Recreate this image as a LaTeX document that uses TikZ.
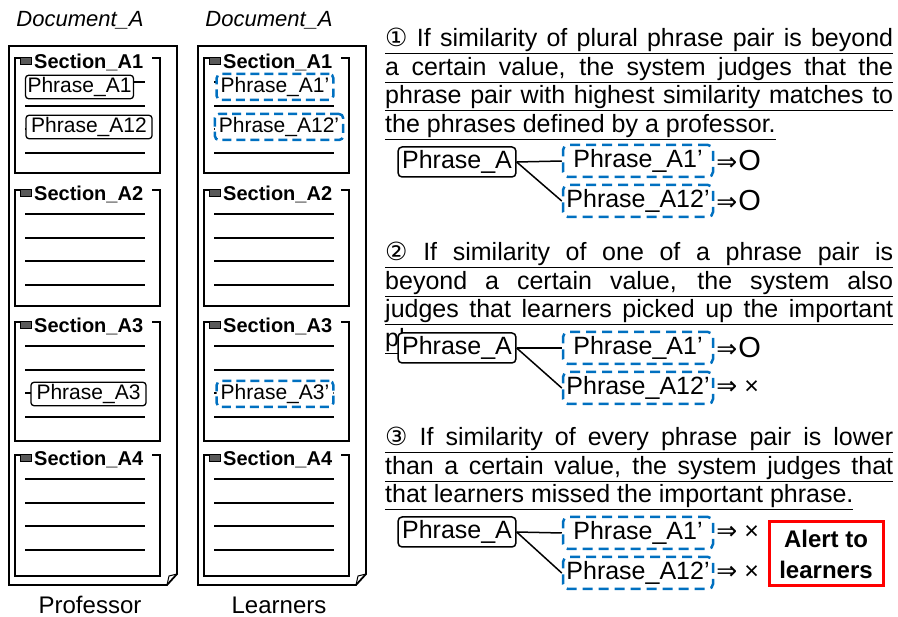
\documentclass[tikz,border=0pt]{standalone}
\usepackage{fontspec}
\setmainfont{Liberation Sans}
\newfontfamily\symfont{DejaVu Sans}
\usepackage{tikz}
\usetikzlibrary{positioning,calc}
\definecolor{dashblue}{RGB}{0,112,192}
\newcommand{\jok}{{\symfont ⇒}\kern1pt{\fontsize{29}{29}\selectfont O}}
\newcommand{\jng}{{\symfont ⇒} ×}

\begin{document}
\begin{tikzpicture}[x=1pt,y=-1pt,
 docline/.style={line width=1.8pt},
 secline/.style={line width=2.2pt},
 txtline/.style={line width=2pt},
 phr/.style={draw, rounded corners=3pt, line width=1.3pt, fill=white, inner xsep=2pt, inner ysep=2pt, minimum height=23pt, font=\fontsize{21}{21}\selectfont},
 phrl/.style={draw=dashblue, dash pattern=on 9pt off 5pt, rounded corners=4pt, line width=2.5pt, fill=white, inner xsep=4pt, inner ysep=2pt, minimum height=26pt, font=\fontsize{21}{21}\selectfont},
 pbox/.style={draw, rounded corners=4pt, line width=1.5pt, fill=white, inner xsep=4pt, minimum height=30pt, font=\fontsize{25}{25}\selectfont},
 pboxl/.style={draw=dashblue, dash pattern=on 10pt off 6pt, rounded corners=5pt, line width=2.5pt, fill=white, minimum width=150pt, minimum height=32pt, inner xsep=2pt, font=\fontsize{25}{25}\selectfont},
 judge/.style={inner sep=2pt, font=\fontsize{25}{25}\selectfont},
 ptxt/.style={anchor=north west, inner sep=0pt, align=left, font=\fontsize{25}{28.5}\selectfont}]

\useasboundingbox (0,0) rectangle (898,617);

% the two copies of the document
\foreach \dx/\who in {0/Professor,189/Learners}{
 \draw[docline] (\dx+9,46) -- (\dx+177,46) -- (\dx+177,574) -- (\dx+167,585) -- (\dx+9,585) -- cycle;
 \draw[line width=1pt] (\dx+167,585) -- (\dx+169,576) -- (\dx+177,574);
 \foreach \sy/\sb/\k in {58/173/1,190/306/2,322/441/3,455/576/4}{
  \draw[secline] (\dx+20,\sy) -- (\dx+15,\sy) -- (\dx+15,\sb) -- (\dx+160,\sb) -- (\dx+160,\sy) -- (\dx+152,\sy);
  \draw[line width=.8pt, fill=black!65] (\dx+20,\sy-1) rectangle (\dx+31,\sy+6);
  \node[anchor=base west, inner sep=0pt, font=\bfseries\fontsize{20}{20}\selectfont] (sec-\who-\k) at (\dx+34,\sy+11) {Section\_A\k};
  \foreach \ly in {24,48,71,95}
   \draw[txtline] (\dx+25,\sy+\ly) -- (\dx+145,\sy+\ly);
 }
 \node[font=\itshape\fontsize{22}{22}\selectfont] (doc-\who) at (\dx+80,20) {Document\_A};
 \node[font=\fontsize{24}{24}\selectfont] (who-\who) at (\dx+90,605) {\who};
}

% phrases in the documents
\node[phr, minimum width=107pt] (pA1) at (79.5,87) {Phrase\_A1};
\node[phr, minimum width=126pt] (pA12) at (89,127) {Phrase\_A12};
\node[phr, minimum width=115pt] (pA3) at (88.5,394) {Phrase\_A3};
\node[phrl] (lA1) at (275,87) {Phrase\_A1’};
\node[phrl] (lA12) at (279,127) {Phrase\_A12’};
\node[phrl] (lA3) at (275,394) {Phrase\_A3’};

% rules
\node[ptxt] (rule1) at (385,28) {\underline{\makebox[508pt][s]{{\symfont ①} If similarity of plural phrase pair is beyond}}\\
 \underline{\makebox[508pt][s]{a certain value, the system judges that the}}\\
 \underline{\makebox[508pt][s]{phrase pair with highest similarity matches to}}\\
 \underline{the phrases defined by a professor.}};
\node[ptxt] (rule2) at (385,242) {\underline{\makebox[508pt][s]{{\symfont ②} If similarity of one of a phrase pair is}}\\
 \underline{\makebox[508pt][s]{beyond a certain value, the system also}}\\
 \underline{\makebox[508pt][s]{judges that learners picked up the important}}\\
 \underline{phrase.}};
\node[ptxt] (rule3) at (385,427) {\underline{\makebox[508pt][s]{{\symfont ③} If similarity of every phrase pair is lower}}\\
 \underline{\makebox[508pt][s]{than a certain value, the system judges that}}\\
 \underline{that learners missed the important phrase.}};

% case 1
\node[pbox] (qA-1) at (457,162) {Phrase\_A};
\node[pboxl] (qA1-1) at (638,161) {Phrase\_A1’};
\node[pboxl] (qA12-1) at (638,201) {Phrase\_A12’};
\draw[line width=1.5pt] (qA-1.east) -- (qA1-1.west);
\draw[line width=1.5pt] (qA-1.east) -- (qA12-1.west);
\node[judge, right=0pt of qA1-1] (j1-1) {\jok};
\node[judge, right=0pt of qA12-1] (j12-1) {\jok};

% case 2
\node[pbox] (qA-2) at (457,348) {Phrase\_A};
\node[pboxl] (qA1-2) at (638,348) {Phrase\_A1’};
\node[pboxl] (qA12-2) at (638,388) {Phrase\_A12’};
\draw[line width=1.5pt] (qA-2.east) -- (qA1-2.west);
\draw[line width=1.5pt] (qA-2.east) -- (qA12-2.west);
\node[judge, right=0pt of qA1-2] (j1-2) {\jok};
\node[judge, right=0pt of qA12-2] (j12-2) {\jng};

% case 3
\node[pbox] (qA-3) at (457,532) {Phrase\_A};
\node[pboxl] (qA1-3) at (638,533) {Phrase\_A1’};
\node[pboxl] (qA12-3) at (638,573) {Phrase\_A12’};
\draw[line width=1.5pt] (qA-3.east) -- (qA1-3.west);
\draw[line width=1.5pt] (qA-3.east) -- (qA12-3.west);
\node[judge, right=0pt of qA1-3] (j1-3) {\jng};
\node[judge, right=0pt of qA12-3] (j12-3) {\jng};
\node[draw=red, line width=3pt, minimum width=114pt, minimum height=64pt, align=center, font=\bfseries\fontsize{24}{31}\selectfont] (alert) at (826,554) {Alert to\\learners};
\end{tikzpicture}
\end{document}
